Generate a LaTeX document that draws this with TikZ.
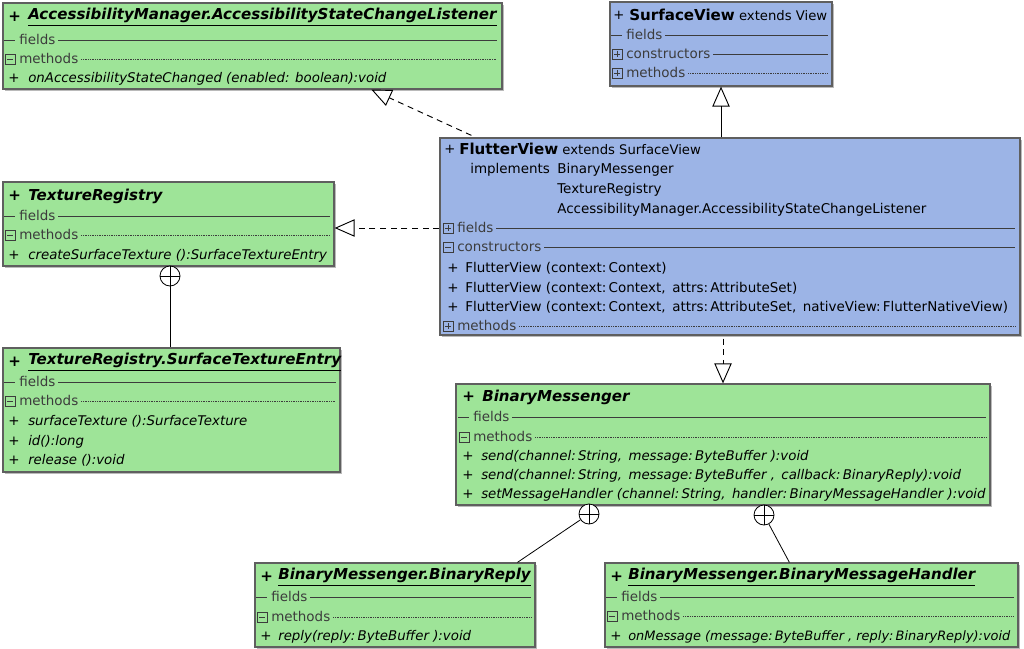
\documentclass[tikz,border=0pt]{standalone}
\usepackage{fontspec}
\setmainfont{DejaVu Sans}
\usetikzlibrary{arrows.meta,calc,fit,shadows}

\definecolor{umlgreen}{RGB}{158,228,152}
\definecolor{umlblue}{RGB}{156,180,230}
\definecolor{umlframe}{RGB}{95,95,95}
\definecolor{umlgrey}{RGB}{60,60,60}

\tikzset{
  umlbox/.style={draw=umlframe, line width=0.9pt, inner sep=0pt,
    drop shadow={shadow xshift=1.5pt, shadow yshift=-1.5pt, opacity=0.45, fill=black!60}},
  title/.style={anchor=west, inner sep=0pt, font=\fontsize{11.3}{13}\selectfont\bfseries\itshape},
  headline/.style={anchor=west, inner sep=0pt, font=\fontsize{9.9}{12}\selectfont},
  row/.style={anchor=west, inner sep=0pt, font=\fontsize{10.1}{12}\selectfont, text height=1.6ex, text depth=0.4ex},
  op/.style={row, font=\fontsize{10}{12}\selectfont\itshape},
  seclabel/.style={row, text=umlgrey},
  secline/.style={umlgrey, line width=0.6pt},
  dotline/.style={umlgrey, line width=0.5pt, dash pattern=on 0.4pt off 0.9pt},
  icon/.style={umlgrey, line width=0.6pt},
  realize/.style={line width=0.7pt, dash pattern=on 4.5pt off 3.5pt, -{Triangle[open,length=15pt,width=13pt]}},
  extends/.style={line width=0.7pt, -{Triangle[open,length=15pt,width=13pt]}},
  nestcirc/.style={circle, draw, line width=0.6pt, fill=white, minimum size=15pt, inner sep=0pt,
    path picture={\draw[line width=0.6pt] (path picture bounding box.north) -- (path picture bounding box.south)
      (path picture bounding box.west) -- (path picture bounding box.east);}},
  nestline/.style={line width=0.6pt},
  nosect/.pic={\draw[icon] (-6,0) -- (5,0);},
  collapse/.pic={\draw[icon] (-5,-5) rectangle (5,5); \draw[icon] (-3,0) -- (3,0);},
  expand/.pic={\draw[icon] (-5,-5) rectangle (5,5); \draw[icon] (-3,0) -- (3,0) (0,-3) -- (0,3);}
}

\begin{document}
\begin{tikzpicture}[x=0.75pt, y=-0.75pt]
    \fill[white] (0,0) rectangle (1024,649);
    \useasboundingbox (0,0) rectangle (1024,649);

    % AccessibilityManager.AccessibilityStateChangeListener
    \node[umlbox, fill=umlgreen, fit={(3,3) (502,89)}] (acc) {};
    \node[title] at (8,17) {+};
    \node[title] (acctitle) at (28,17) {\underline{AccessibilityManager.AccessibilityStateChangeListener}};
    \pic at (10,40) {nosect};
    \node[seclabel] (accfields) at (19,40) {fields};
    \draw[secline] ([xshift=2pt]accfields.east) -- (497,40);
    \pic at (10,59) {collapse};
    \node[seclabel] (accmethods) at (19,59) {methods};
    \draw[dotline] ([xshift=2pt]accmethods.east) -- (497,59);
    \node[row] at (8,78) {+};
    \node[op] at (28,78) {onAccessibilityStateChanged (enabled: boolean):void};

    % SurfaceView
    \node[umlbox, fill=umlblue, fit={(610,2) (832,86)}] (sv) {};
    \node[headline] at (613,15) {+};
    \node[headline] (svtitle) at (629,15) {{\fontsize{11.3}{13}\selectfont\bfseries SurfaceView} extends View};
    \pic at (617,35) {nosect};
    \node[seclabel] (svfields) at (626,35) {fields};
    \draw[secline] ([xshift=2pt]svfields.east) -- (828,35);
    \pic at (617,54) {expand};
    \node[seclabel] (svctors) at (626,54) {constructors};
    \draw[secline] ([xshift=2pt]svctors.east) -- (828,54);
    \pic at (617,73) {expand};
    \node[seclabel] (svmethods) at (626,73) {methods};
    \draw[dotline] ([xshift=2pt]svmethods.east) -- (828,73);

    % FlutterView
    \node[umlbox, fill=umlblue, fit={(440,138) (1020,335)}] (fv) {};
    \node[headline] at (444,149) {+};
    \node[headline] (fvtitle) at (459,149) {{\fontsize{11.3}{13}\selectfont\bfseries FlutterView} extends SurfaceView};
    \node[row] (fvimpl) at (470,169) {implements};
    \node[row] at (557,169) {BinaryMessenger};
    \node[row] at (557,189) {TextureRegistry};
    \node[row] at (557,209) {AccessibilityManager.AccessibilityStateChangeListener};
    \pic at (448,228) {expand};
    \node[seclabel] (fvfields) at (457,228) {fields};
    \draw[secline] ([xshift=2pt]fvfields.east) -- (1015,228);
    \pic at (448,247) {collapse};
    \node[seclabel] (fvctors) at (457,247) {constructors};
    \draw[secline] ([xshift=2pt]fvctors.east) -- (1015,247);
    \node[row] at (447,268) {+};
    \node[row] at (465,268) {FlutterView (context:\,Context)};
    \node[row] at (447,288) {+};
    \node[row] at (465,288) {FlutterView (context:\,Context,\, attrs:\,AttributeSet)};
    \node[row] at (447,307) {+};
    \node[row] at (465,307) {FlutterView (context:\,Context,\, attrs:\,AttributeSet,\, nativeView:\,FlutterNativeView)};
    \pic at (448,326) {expand};
    \node[seclabel] (fvmethods) at (457,326) {methods};
    \draw[dotline] ([xshift=2pt]fvmethods.east) -- (1015,326);

    % TextureRegistry
    \node[umlbox, fill=umlgreen, fit={(3,182) (334,266)}] (tex) {};
    \node[title] at (8,196) {+};
    \node[title] (textitle) at (28,196) {TextureRegistry};
    \pic at (10,216) {nosect};
    \node[seclabel] (texfields) at (19,216) {fields};
    \draw[secline] ([xshift=2pt]texfields.east) -- (330,216);
    \pic at (10,235) {collapse};
    \node[seclabel] (texmethods) at (19,235) {methods};
    \draw[dotline] ([xshift=2pt]texmethods.east) -- (330,235);
    \node[row] at (8,255) {+};
    \node[op] at (28,255) {createSurfaceTexture ():SurfaceTextureEntry};

    % TextureRegistry.SurfaceTextureEntry
    \node[umlbox, fill=umlgreen, fit={(3,348) (340,472)}] (entry) {};
    \node[title] at (8,362) {+};
    \node[title] (entrytitle) at (28,362) {\underline{TextureRegistry.SurfaceTextureEntry}};
    \pic at (10,382) {nosect};
    \node[seclabel] (entryfields) at (19,382) {fields};
    \draw[secline] ([xshift=2pt]entryfields.east) -- (336,382);
    \pic at (10,401) {collapse};
    \node[seclabel] (entrymethods) at (19,401) {methods};
    \draw[dotline] ([xshift=2pt]entrymethods.east) -- (336,401);
    \node[row] at (8,421) {+};
    \node[op] at (28,421) {surfaceTexture ():SurfaceTexture};
    \node[row] at (8,441) {+};
    \node[op] at (28,441) {id():long};
    \node[row] at (8,460) {+};
    \node[op] at (28,460) {release ():void};

    % BinaryMessenger
    \node[umlbox, fill=umlgreen, fit={(456,384) (990,505)}] (bm) {};
    \node[title] at (462,397) {+};
    \node[title] (bmtitle) at (482,397) {BinaryMessenger};
    \pic at (464,417) {nosect};
    \node[seclabel] (bmfields) at (473,417) {fields};
    \draw[secline] ([xshift=2pt]bmfields.east) -- (986,417);
    \pic at (464,437) {collapse};
    \node[seclabel] (bmmethods) at (473,437) {methods};
    \draw[dotline] ([xshift=2pt]bmmethods.east) -- (986,437);
    \node[row] at (462,456) {+};
    \node[op] at (481,456) {send(channel:\,String,\, message:\,ByteBuffer ):void};
    \node[row] at (462,475) {+};
    \node[op] at (481,475) {send(channel:\,String,\, message:\,ByteBuffer ,\, callback:\,BinaryReply):void};
    \node[row] at (462,494) {+};
    \node[op] at (481,494) {setMessageHandler (channel:\,String,\, handler:\,BinaryMessageHandler ):void};

    % BinaryMessenger.BinaryReply
    \node[umlbox, fill=umlgreen, fit={(255,563) (535,647)}] (reply) {};
    \node[title] at (260,577) {+};
    \node[title] (replytitle) at (278,577) {\underline{BinaryMessenger.BinaryReply}};
    \pic at (262,597) {nosect};
    \node[seclabel] (replyfields) at (271,597) {fields};
    \draw[secline] ([xshift=2pt]replyfields.east) -- (531,597);
    \pic at (262,617) {collapse};
    \node[seclabel] (replymethods) at (271,617) {methods};
    \draw[dotline] ([xshift=2pt]replymethods.east) -- (531,617);
    \node[row] at (260,636) {+};
    \node[op] at (278,636) {reply(reply:\,ByteBuffer ):void};

    % BinaryMessenger.BinaryMessageHandler
    \node[umlbox, fill=umlgreen, fit={(605,563) (1018,647)}] (handler) {};
    \node[title] at (610,577) {+};
    \node[title] (handlertitle) at (628,577) {\underline{BinaryMessenger.BinaryMessageHandler}};
    \pic at (612,597) {nosect};
    \node[seclabel] (handlerfields) at (621,597) {fields};
    \draw[secline] ([xshift=2pt]handlerfields.east) -- (1014,597);
    \pic at (612,616) {collapse};
    \node[seclabel] (handlermethods) at (621,616) {methods};
    \draw[dotline] ([xshift=2pt]handlermethods.east) -- (1014,616);
    \node[row] at (610,636) {+};
    \node[op, font=\fontsize{9.7}{12}\selectfont\itshape] at (628,636) {onMessage (message:\,ByteBuffer , reply:\,BinaryReply):void};

    % relations
    \draw[realize] ($(fv.north west)+(32,-2)$) -- ($(acc.south west)+(369,0)$);
    \draw[realize] (fv.west |- fvfields) -- (tex.east |- fvfields);
    \draw[extends] (sv.south |- fv.north) -- (sv.south);
    \draw[realize] ($(bm.north |- fv.south)+(0,3)$) -- (bm.north);

    % nested classes
    \node[nestcirc] (texnest) at (170,276) {};
    \draw[nestline] (texnest) -- (texnest |- entry.north);
    \node[nestcirc] (bmreply) at (589,514) {};
    \draw[nestline] (bmreply) -- ($(reply.north west)+(263,0)$);
    \node[nestcirc] (bmhandler) at (764,515) {};
    \draw[nestline] (bmhandler) -- ($(handler.north west)+(185,0)$);

\end{tikzpicture}
\end{document}
